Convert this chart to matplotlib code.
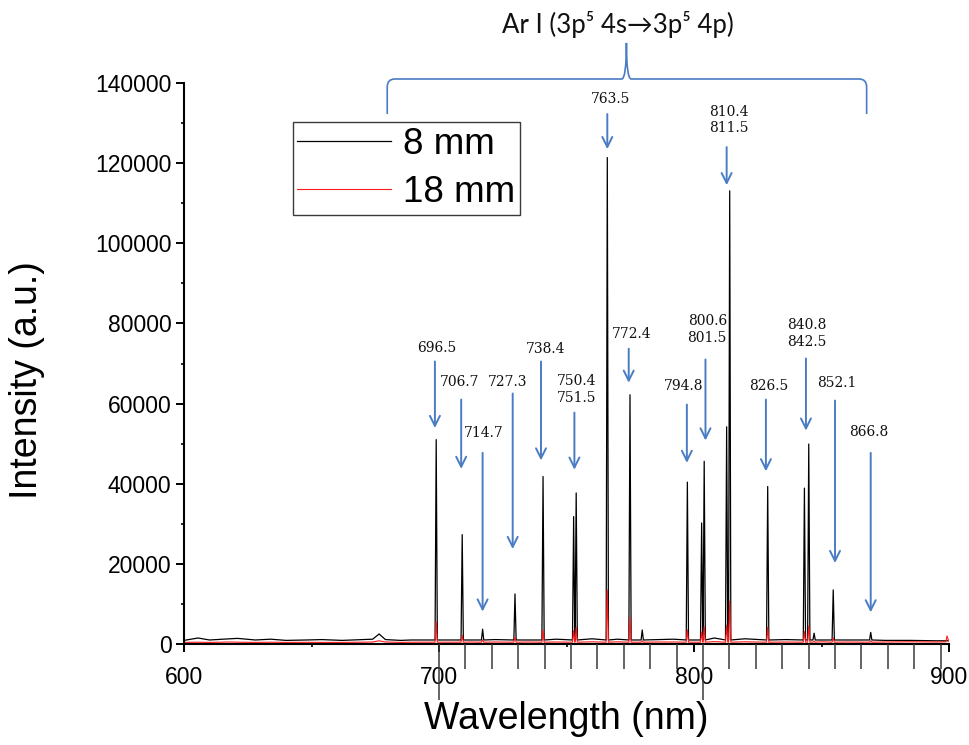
import numpy as np
import matplotlib
matplotlib.use("Agg")
import matplotlib.pyplot as plt
from matplotlib.path import Path
from matplotlib.patches import PathPatch

# ---- data (wavelength axis in nm, intensity in a.u.) ----
series_names = ["8 mm", "18 mm"]

# baseline readings between the lines
base_nm = [600, 605.5, 610, 618, 621, 628, 634, 640, 648, 654, 662, 670, 674, 676.5, 679, 685, 689, 694,
           712, 722, 735, 746, 760, 770, 786, 792, 808, 820, 836, 850, 860, 875, 885, 895, 898.8, 899.2, 900]
base_8mm = [900, 1500, 1000, 1300, 1400, 1000, 1200, 900, 1000, 1100, 900, 1100, 1200, 2500, 1100, 900, 1000, 1000,
            1000, 1100, 1000, 1200, 1300, 1200, 1100, 1200, 1500, 1300, 1100, 1000, 1000, 900, 900, 800, 800, 800, 800]
base_18mm = [400, 450, 400, 500, 450, 400, 450, 400, 420, 400, 400, 450, 500, 800, 500, 400, 450, 450,
             500, 500, 500, 500, 550, 550, 500, 500, 600, 550, 500, 550, 500, 500, 550, 500, 550, 2000, 600]

# emission lines, as drawn on the wavelength axis
peak_nm = [698.9, 709.1, 717.1, 729.8, 740.8, 752.8, 753.8, 766.0, 774.9, 779.7, 797.4,
           803.0, 804.0, 812.8, 814.0, 828.9, 843.3, 845.0, 847.1, 854.6, 869.3]
peak_8mm = [51000, 27300, 3700, 12500, 41800, 31800, 37700, 121400, 62200, 3500, 40400,
            30200, 45600, 54200, 113100, 39300, 38900, 49900, 2700, 13500, 2900]
peak_18mm = [5600, 2200, 1000, 1700, 3500, 3300, 4200, 13500, 6700, 800, 3500,
             3000, 4300, 4700, 10700, 4200, 3100, 4500, 700, 1500, 800]
foot_8mm, foot_18mm = 1000, 450

# line identifications: label, label x, label y, arrow x, arrow top, arrow tip
line_ids = [
    ("696.5", 699.3, 73750, 698.4, 70500, 53900),
    ("706.7", 708.2, 65400, 708.7, 61000, 43700),
    ("714.7", 717.4, 52700, 717.1, 47700, 8100),
    ("727.3", 726.8, 65400, 728.9, 62500, 23700),
    ("738.4", 742.0, 73700, 740.0, 70500, 45800),
    ("750.4\n751.5", 754.0, 63500, 753.1, 57750, 43500),
    ("763.5", 767.1, 136000, 766.0, 132250, 123500),
    ("772.4", 775.6, 77250, 774.4, 73700, 65200),
    ("794.8", 796.1, 64500, 797.2, 59750, 45200),
    ("800.6\n801.5", 805.2, 78500, 804.5, 71000, 50800),
    ("810.4\n811.5", 813.5, 130750, 812.8, 124000, 114500),
    ("826.5", 829.4, 64500, 828.2, 61000, 43100),
    ("840.8\n842.5", 844.4, 77500, 843.9, 71250, 53250),
    ("852.1", 856.0, 65200, 855.3, 60750, 20200),
    ("866.8", 868.6, 52800, 869.3, 47700, 7900),
]

BLUE = "#4a7cc4"
HW = 0.45  # drawn half-width of a line (nm)
SANS = ["Liberation Sans", "DejaVu Sans"]


def spectrum(base_vals, peak_vals, foot):
    x = list(base_nm); y = list(base_vals)
    for c, h in zip(peak_nm, peak_vals):
        x += [c - HW, c, c + HW]; y += [foot, h, foot]
    order = np.argsort(x, kind="stable")
    return np.asarray(x)[order], np.asarray(y)[order]


fig = plt.figure(figsize=(9.69, 7.45), dpi=100)
ax = fig.add_axes([184/969, 101/745, 765/969, 561/745])

x8, y8 = spectrum(base_8mm, peak_8mm, foot_8mm)
x18, y18 = spectrum(base_18mm, peak_18mm, foot_18mm)
ax.plot(x8, y8, color="black", lw=0.9, label=series_names[0])
ax.plot(x18, y18, color="#ff1a1a", lw=0.8, label=series_names[1])

ax.set_xlim(600, 900); ax.set_ylim(0, 140000)
ax.set_xticks([600, 700, 800, 900]); ax.set_xticks([650, 750, 850], minor=True)
ax.set_yticks(np.arange(0, 140001, 20000)); ax.set_yticks(np.arange(10000, 140000, 20000), minor=True)
for s in ("top", "right"): ax.spines[s].set_visible(False)
for s in ("left", "bottom"): ax.spines[s].set_linewidth(1.5)
ax.tick_params(which="major", direction="out", length=6, width=1.4, labelsize=16.5)
ax.tick_params(which="minor", direction="out", length=2.5, width=1.2)
ax.tick_params(axis="x", which="major", pad=10)
ax.tick_params(axis="y", which="major", pad=3)
for lab in ax.get_xticklabels() + ax.get_yticklabels():
    lab.set_family(SANS)

ax.set_xlabel("Wavelength (nm)", fontsize=27, family=SANS)
ax.set_ylabel("Intensity (a.u.)", fontsize=27, family=SANS)
ax.xaxis.set_label_coords(0.5, -0.102)
ax.yaxis.set_label_coords(-0.182, 0.47)

# overlaid scale ticks below the axis
ax2 = ax.twiny()
ax2.set_xlim(603.4, 893.2)
ax2.xaxis.set_ticks_position("bottom")
ax2.set_xticks([700, 800]); ax2.set_xticks(np.arange(710, 891, 10), minor=True)
ax2.set_xticklabels([])
ax2.tick_params(which="major", direction="out", length=40, width=1.1, color="#3a3a3a")
ax2.tick_params(which="minor", direction="out", length=18, width=1.1, color="#3a3a3a")
for s in ax2.spines.values(): s.set_visible(False)

# arrows + labels
for lab, lx, ly, axx, top, tip in line_ids:
    ax.annotate("", xy=(axx, tip), xytext=(axx, top),
                arrowprops=dict(arrowstyle="->", color=BLUE, lw=1.4, mutation_scale=18,
                                shrinkA=0, shrinkB=0), annotation_clip=False)
    ax.text(lx, ly, lab, ha="center", va="center", fontsize=10, family="DejaVu Serif",
            linespacing=1.25, color="#111111")

# curly brace over the Ar I lines
verts = [(679.7, 132250), (679.7, 139000), (679.7, 141000), (682.7, 141000),
         (771.6, 141000), (773.5, 141000), (773.5, 150000),
         (773.5, 141000), (775.4, 141000),
         (864.7, 141000), (867.7, 141000), (867.7, 139000), (867.7, 132250)]
codes = [Path.MOVETO, Path.LINETO, Path.CURVE3, Path.CURVE3,
         Path.LINETO, Path.CURVE3, Path.CURVE3,
         Path.CURVE3, Path.CURVE3,
         Path.LINETO, Path.CURVE3, Path.CURVE3, Path.LINETO]
ax.add_patch(PathPatch(Path(verts, codes), fill=False, edgecolor=BLUE, lw=1.2, clip_on=False))
fig.text(618/969, 1 - 25/745, "Ar I (3p\u2075 4s\u21923p\u2075 4p)", ha="center", va="center",
         fontsize=18.5, family=["Lato", "DejaVu Sans"], color="#111111")

leg = ax.legend(loc="upper left", bbox_to_anchor=(292.7/969, 1 - 122.3/745), bbox_transform=fig.transFigure,
                borderaxespad=0, prop={"family": SANS, "size": 26.5},
                frameon=True, fancybox=False, edgecolor="#3a3a3a", framealpha=1,
                handlelength=2.55, handletextpad=0.33, borderpad=0.12, labelspacing=0.37)
leg.get_frame().set_linewidth(1.0)

fig.savefig("out.png", dpi=100, facecolor="white")
